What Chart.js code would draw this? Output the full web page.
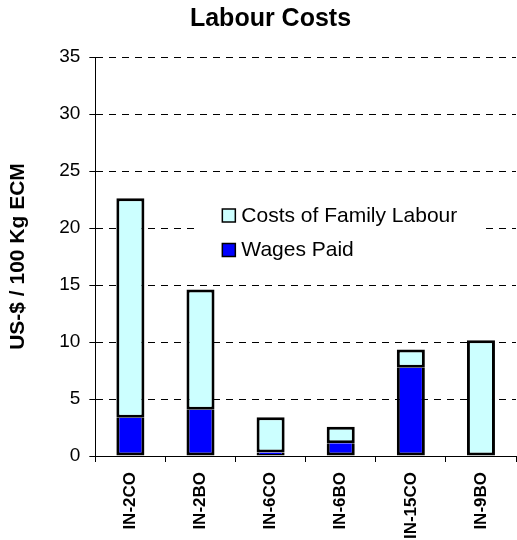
<!DOCTYPE html>
<html lang="en">
<head>
    <meta charset="UTF-8">
    <title>Labour Costs</title>
    <script src="https://cdn.jsdelivr.net/npm/chart.js@4/dist/chart.umd.min.js"></script>
    <style>
        body { margin: 0; padding: 0; background: #ffffff; }
        #wrap { width: 517px; height: 540px; position: relative; }
    </style>
</head>
<body>
    <div id="wrap">
        <canvas id="labourChart" width="517" height="540"></canvas>
    </div>

    <script>
        // data (US-$ / 100 kg ECM)
        const farms = ['IN-2CO', 'IN-2BO', 'IN-6CO', 'IN-6BO', 'IN-15CO', 'IN-9BO'];
        const wagesPaid = [3.35, 4.05, 0.3, 1.12, 7.75, 0];
        const familyLabour = [19.25, 10.55, 3.1, 1.44, 1.6, 10.15];
        const yTicks = [0, 5, 10, 15, 20, 25, 30, 35];

        const FONT = 'Arial, "Liberation Sans", sans-serif';

        // legend drawn inside the plot, on a white box
        const innerLegend = {
            id: 'innerLegend',
            afterDraw(chart) {
                const ctx = chart.ctx;
                const area = chart.chartArea;
                const x = area.left + 127;
                const y = area.top + 152;
                ctx.save();
                ctx.fillStyle = '#ffffff';
                ctx.fillRect(area.left + 99, area.top + 140, 290, 70);
                const items = chart.data.datasets.slice().reverse();
                ctx.font = '21px ' + FONT;
                ctx.textBaseline = 'middle';
                items.forEach((ds, i) => {
                    const by = y + i * 34.5;
                    ctx.fillStyle = ds.backgroundColor;
                    ctx.fillRect(x, by, 13, 13);
                    ctx.strokeStyle = '#000000';
                    ctx.lineWidth = 1.5;
                    ctx.strokeRect(x, by, 13, 13);
                    ctx.fillStyle = '#000000';
                    ctx.fillText(ds.label, x + 19, by + 7);
                });
                ctx.restore();
            }
        };

        const ctx = document.getElementById('labourChart').getContext('2d');
        new Chart(ctx, {
            type: 'bar',
            data: {
                labels: farms,
                datasets: [
                    {
                        label: 'Wages Paid',
                        data: wagesPaid,
                        backgroundColor: '#0000ff',
                        borderColor: '#000000',
                        borderWidth: 3,
                        borderSkipped: 'top'
                    },
                    {
                        label: 'Costs of Family Labour',
                        data: familyLabour,
                        backgroundColor: '#ccffff',
                        borderColor: '#000000',
                        borderWidth: 3,
                        borderSkipped: false
                    }
                ]
            },
            options: {
                responsive: false,
                animation: false,
                layout: { padding: { right: 1 } },
                datasets: {
                    bar: { barPercentage: 0.4, categoryPercentage: 1.0 }
                },
                plugins: {
                    legend: { display: false },
                    tooltip: { enabled: false },
                    title: {
                        display: true,
                        // em space in front pushes the centred title a little right, as in the source
                        text: '\u2003Labour Costs',
                        color: '#000000',
                        font: { family: FONT, size: 25, weight: 'bold' },
                        padding: { top: 4, bottom: 23 }
                    }
                },
                scales: {
                    x: {
                        stacked: true,
                        offset: true,
                        afterFit(scale) {
                            scale.height = 84;
                        },
                        border: { color: '#000000', width: 1 },
                        grid: {
                            offset: true,
                            drawOnChartArea: false,
                            color: '#000000',
                            tickLength: 6
                        },
                        ticks: {
                            color: '#000000',
                            minRotation: 90,
                            maxRotation: 90,
                            padding: 10,
                            autoSkip: false,
                            font: { family: FONT, size: 17, weight: 'bold' }
                        }
                    },
                    y: {
                        stacked: true,
                        min: 0,
                        max: 35,
                        afterBuildTicks(scale) {
                            scale.ticks = yTicks.map(v => ({ value: v }));
                        },
                        border: { color: '#000000', width: 1, dash: [7, 6] },
                        grid: {
                            color: '#000000',
                            lineWidth: 1,
                            tickLength: 6,
                            tickBorderDash: []
                        },
                        ticks: {
                            color: '#000000',
                            padding: 9,
                            font: { family: FONT, size: 19 }
                        },
                        title: {
                            display: true,
                            text: 'US-$ / 100 Kg ECM',
                            color: '#000000',
                            font: { family: FONT, size: 21, weight: 'bold' },
                            padding: { top: 6, bottom: 19 }
                        }
                    }
                }
            },
            plugins: [innerLegend]
        });
    </script>
</body>
</html>
